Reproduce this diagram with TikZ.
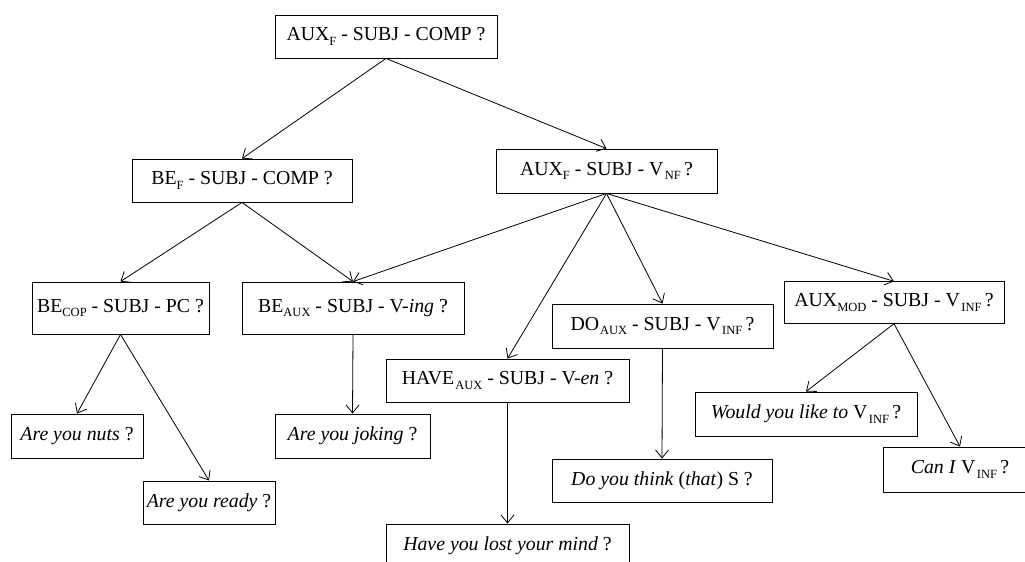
\documentclass[tikz,border=0pt]{standalone}
\usepackage{fontspec}
\setmainfont{Liberation Serif}
\usetikzlibrary{arrows.meta}
\newcommand{\sbs}[1]{{\fontsize{12.5}{12.5}\selectfont\raisebox{-4.5pt}{#1}}}
\tikzset{
  qbox/.style={draw, line width=0.9pt, inner sep=0pt, align=center,
    font=\fontsize{19.8}{22}\selectfont},
  conn/.style={line width=0.8pt, -{Straight Barb[length=8pt,width=13pt,line width=0.8pt]}}
}
\begin{document}
\begin{tikzpicture}[x=1pt,y=-1pt]
\useasboundingbox (0,0) rectangle (1025,562);
\clip (0,0) rectangle (1025,562);
\fill[white] (0,0) rectangle (1025,562);
% level 0
\node[qbox, minimum width=222pt, minimum height=43pt] (top) at (386,36.5) {AUX\sbs{F} - SUBJ - COMP ?};
% level 1
\node[qbox, minimum width=220pt, minimum height=43pt] (bef) at (242,180.5) {BE\sbs{F} - SUBJ - COMP ?};
\node[qbox, minimum width=221pt, minimum height=44pt] (auxf) at (606.5,171) {AUX\sbs{F} - SUBJ - V\kern1.5pt\sbs{NF}\,?};
% level 2
\node[qbox, minimum width=177pt, minimum height=52pt] (becop) at (120.5,308) {BE\sbs{COP} - SUBJ - PC ?};
\node[qbox, minimum width=222pt, minimum height=52pt] (beaux) at (353,308) {BE\sbs{AUX} - SUBJ - V-\textit{ing} ?};
\node[qbox, minimum width=221pt, minimum height=44pt] (doaux) at (662.5,326) {DO\kern1pt\sbs{AUX} - SUBJ - V\kern1.5pt\sbs{INF}\,?};
\node[qbox, minimum width=243pt, minimum height=43pt] (haveaux) at (507.5,380.5) {HAVE\kern1pt\sbs{AUX} - SUBJ - V-\textit{en} ?};
\node[qbox, minimum width=220pt, minimum height=41.5pt] (auxmod) at (894,302.5) {AUX\sbs{MOD} - SUBJ - V\kern1.5pt\sbs{INF}\,?};
% leaves
\node[qbox, minimum width=132pt, minimum height=44pt] (nuts) at (77,436) {\textit{Are you nuts} ?};
\node[qbox, minimum width=132pt, minimum height=43pt] (ready) at (209,502.5) {\textit{Are you ready} ?};
\node[qbox, minimum width=155pt, minimum height=44pt] (joking) at (352.5,436) {\textit{Are you joking} ?};
\node[qbox, minimum width=243pt, minimum height=43pt] (mind) at (507.5,545.5) {\textit{Have you lost your mind} ?};
\node[qbox, minimum width=220pt, minimum height=43pt] (think) at (662,480.5) {\textit{Do you think} (\textit{that}) S ?};
\node[qbox, minimum width=222pt, minimum height=44pt] (would) at (806,414) {\textit{Would you like to} V\kern1.5pt\sbs{INF}\,?};
\node[qbox, minimum width=154pt, minimum height=45pt] (cani) at (960,469.5) {\textit{Can I} V\kern1.5pt\sbs{INF}\,?};
% connectors
\draw[conn] (top.south) -- (bef.north);
\draw[conn] (top.south) -- (auxf.north);
\draw[conn] (bef.south) -- (becop.north);
\draw[conn] (bef.south) -- (beaux.north);
\draw[conn] (auxf.south) -- (beaux.north);
\draw[conn] (auxf.south) -- (haveaux.north);
\draw[conn] (auxf.south) -- (doaux.north);
\draw[conn] (auxf.south) -- (auxmod.north);
\draw[conn] (becop.south) -- (nuts.north);
\draw[conn] (becop.south) -- (ready.north);
\draw[conn] (beaux.south) -- (joking.north);
\draw[conn] (haveaux.south) -- (mind.north);
\draw[conn] (doaux.south) -- (think.north);
\draw[conn] (auxmod.south) -- (would.north);
\draw[conn] (auxmod.south) -- (cani.north);
\end{tikzpicture}
\end{document}
